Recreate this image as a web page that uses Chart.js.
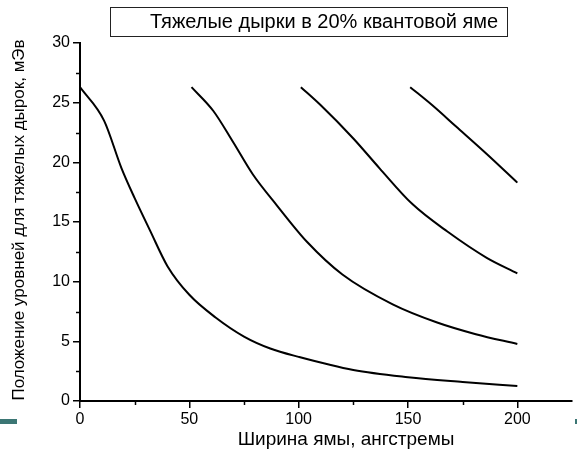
<!DOCTYPE html>
<html>
<head>
<meta charset="utf-8">
<script src="https://cdn.jsdelivr.net/npm/chart.js@4"></script>
<style>
  html, body { margin: 0; padding: 0; background: #fff; }
  #wrap { position: relative; width: 577px; height: 458px; }
</style>
</head>
<body>
<div id="wrap"><canvas id="chart" width="577" height="458"></canvas></div>
<script>
// Heavy-hole subband energies vs quantum-well width (20% well)
const wellWidth1 = [0, 11, 19, 25, 32, 40, 50, 62, 75, 87, 100, 125, 150, 175, 200];
const level1     = [26.3, 23.5, 19.5, 17.0, 14.3, 11.3, 8.9, 7.0, 5.4, 4.4, 3.7, 2.6, 2.0, 1.6, 1.25];

const wellWidth2 = [51, 61, 70, 79, 90, 104, 120, 143, 163, 181, 200];
const level2     = [26.3, 24.3, 21.7, 19.0, 16.4, 13.3, 10.6, 8.1, 6.6, 5.6, 4.78];

const wellWidth3 = [101, 110, 125, 137, 152, 168, 186, 200];
const level3     = [26.3, 24.8, 22.0, 19.5, 16.5, 14.2, 12.0, 10.7];

const wellWidth4 = [151, 161, 172, 186, 200];
const level4     = [26.3, 24.8, 23.0, 20.7, 18.3];

const xMajorTicks = [0, 50, 100, 150, 200];
const xMinorTicks = [25, 75, 125, 175];
const yMajorTicks = [0, 5, 10, 15, 20, 25, 30];
const yMinorTicks = [2.5, 7.5, 12.5, 17.5, 22.5, 27.5];

const legendText = 'Тяжелые дырки в 20% квантовой яме';
const xTitle = 'Ширина ямы, ангстремы';
const yTitle = 'Положение уровней для тяжелых дырок, мЭв';

const FONT = '"Liberation Sans", Arial, sans-serif';

function toPoints(xs, ys) {
  return xs.map((x, i) => ({ x: x, y: ys[i] }));
}

function curve(xs, ys) {
  return {
    data: toPoints(xs, ys),
    borderColor: '#000',
    borderWidth: 2,
    pointRadius: 0,
    fill: false,
    cubicInterpolationMode: 'monotone'
  };
}

// Minor ticks, axis titles, legend frame and slide accents
const decorations = {
  id: 'decorations',
  afterDraw(chart) {
    const { ctx, chartArea, scales } = chart;
    const xs = scales.x, ys = scales.y;
    ctx.save();
    ctx.strokeStyle = '#000';
    ctx.lineWidth = 1.5;
    yMinorTicks.forEach(v => {
      const py = Math.round(ys.getPixelForValue(v)) + 0.5;
      ctx.beginPath();
      ctx.moveTo(chartArea.left - 4, py);
      ctx.lineTo(chartArea.left + 1, py);
      ctx.stroke();
    });
    xMinorTicks.forEach(v => {
      const px = Math.round(xs.getPixelForValue(v)) + 0.5;
      ctx.beginPath();
      ctx.moveTo(px, chartArea.bottom);
      ctx.lineTo(px, chartArea.bottom + 4);
      ctx.stroke();
    });

    // axis titles
    ctx.fillStyle = '#000';
    ctx.textAlign = 'center';
    ctx.textBaseline = 'middle';
    ctx.font = '19px ' + FONT;
    ctx.fillText(xTitle, 346, 440);
    ctx.save();
    ctx.font = '17px ' + FONT;
    ctx.translate(19, 220);
    ctx.rotate(-Math.PI / 2);
    ctx.fillText(yTitle, 0, 0);
    ctx.restore();

    // legend frame
    ctx.font = '20px ' + FONT;
    ctx.strokeStyle = '#222';
    ctx.lineWidth = 1;
    ctx.strokeRect(110.5, 7.5, 397, 29);
    ctx.textAlign = 'left';
    ctx.fillText(legendText, 150, 22);

    // slide accent bars
    ctx.fillStyle = '#3b7674';
    ctx.fillRect(0, 419, 17, 5);
    ctx.fillRect(575, 419, 2, 5);
    ctx.restore();
  }
};

new Chart(document.getElementById('chart'), {
  type: 'scatter',
  data: {
    datasets: [
      curve(wellWidth1, level1),
      curve(wellWidth2, level2),
      curve(wellWidth3, level3),
      curve(wellWidth4, level4)
    ]
  },
  options: {
    responsive: false,
    devicePixelRatio: 1,
    animation: false,
    showLine: true,
    layout: { padding: { left: 0, top: 43, right: 5, bottom: 0 } },
    plugins: {
      legend: { display: false },
      tooltip: { enabled: false }
    },
    scales: {
      x: {
        type: 'linear',
        min: 0,
        max: 225,
        afterBuildTicks: s => { s.ticks = xMajorTicks.map(v => ({ value: v })); },
        afterFit: s => { s.height = 57; },
        border: { display: true, color: '#000', width: 2 },
        grid: { display: true, drawOnChartArea: false, drawTicks: true, tickLength: 7, color: '#000', lineWidth: 1.5 },
        ticks: { color: '#000', padding: 2, font: { family: FONT, size: 16 } }
      },
      y: {
        type: 'linear',
        min: 0,
        max: 30,
        afterBuildTicks: s => { s.ticks = yMajorTicks.map(v => ({ value: v })); },
        afterFit: s => { s.width = 80; },
        border: { display: true, color: '#000', width: 2 },
        grid: { display: true, drawOnChartArea: false, drawTicks: true, tickLength: 7, color: '#000', lineWidth: 1.5 },
        ticks: { color: '#000', padding: 3, font: { family: FONT, size: 16 } }
      }
    }
  },
  plugins: [decorations]
});
</script>
</body>
</html>
